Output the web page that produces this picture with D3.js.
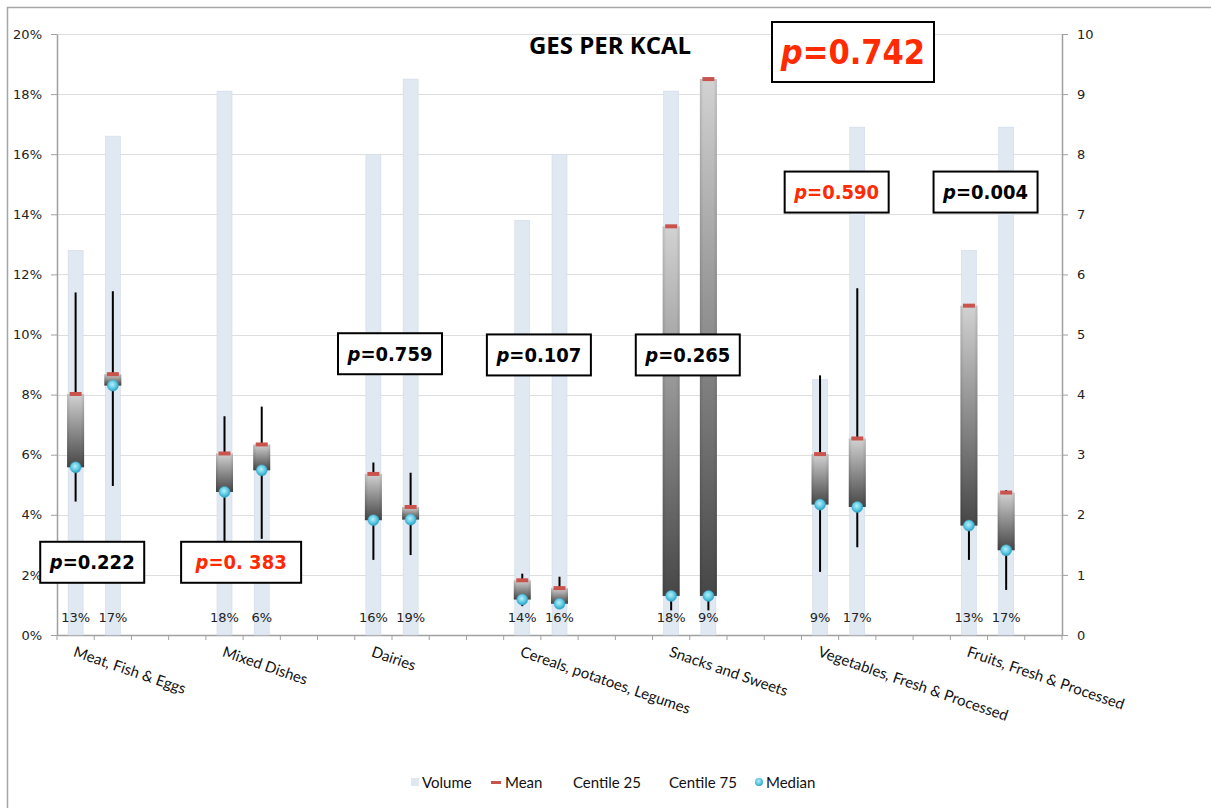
<!DOCTYPE html>
<html>
<head>
<meta charset="utf-8">
<script src="https://cdn.jsdelivr.net/npm/d3@7/dist/d3.min.js"></script>
<style>
  html, body { margin: 0; padding: 0; background: #fff; }
  svg { display: block; }
</style>
</head>
<body>
<svg id="chart" width="1211" height="808"></svg>
<script>
// ---------- DATA ----------
const title = "GES PER KCAL";
const categories = ["Meat, Fish & Eggs", "Mixed Dishes", "Dairies", "Cereals, potatoes, Legumes",
  "Snacks and Sweets", "Vegetables, Fresh & Processed", "Fruits, Fresh & Processed"];
// two bars per category (14 bars, in order)
const volume       = [12.8, 16.6, 18.1, 6.0, 16.0, 18.5, 13.8, 16.0, 18.1, 9.0, 8.5, 16.9, 12.8, 16.9]; // % (left axis)
const volumeLabels = ["13%","17%","18%","6%","16%","19%","14%","16%","18%","9%","9%","17%","13%","17%"];
const meanVals     = [4.01, 4.34, 3.02, 3.17, 2.68, 2.13, 0.91, 0.78, 6.80, 9.25, 3.01, 3.27, 5.48, 2.37]; // right axis
const medianVals   = [2.79, 4.15, 2.38, 2.74, 1.91, 1.92, 0.59, 0.52, 0.65, 0.65, 2.17, 2.13, 1.82, 1.41];
const centile25    = [2.22, 2.48, 1.45, 1.60, 1.25, 1.33, 0.48, 0.45, 0.41, 0.41, 1.05, 1.46, 1.25, 0.75];
const centile75    = [5.70, 5.72, 3.64, 3.80, 2.87, 2.70, 1.02, 0.97, 3.50, 4.00, 4.32, 5.77, 4.00, 2.41];
const pValues      = ["0.222", "0. 383", "0.759", "0.107", "0.265", "0.590", "0.004"];
const pSignificant = [false, true, false, false, false, true, false];
const pGlobal = "0.742";
const leftTicks  = [0, 2, 4, 6, 8, 10, 12, 14, 16, 18, 20];
const rightTicks = [0, 1, 2, 3, 4, 5, 6, 7, 8, 9, 10];
const legendItems = ["Volume", "Mean", "Centile 25", "Centile 75", "Median"];

// ---------- LAYOUT ----------
const svg = d3.select("#chart");
const W = 1211, H = 808;
const plot = { left: 57, right: 1062, top: 34, bottom: 635 };
const nSlots = 27;
const slotIndex = [0, 1, 4, 5, 8, 9, 12, 13, 16, 17, 20, 21, 24, 25];
const pBoxY = [1.21, 1.21, 4.68, 4.66, 4.66, 7.37, 7.37]; // annotation placement (right-axis units)

const x = d3.scaleBand().domain(d3.range(nSlots)).range([plot.left, plot.right]).padding(0);
const yL = d3.scaleLinear().domain([0, 20]).range([plot.bottom, plot.top]);
const yR = d3.scaleLinear().domain([0, 10]).range([plot.bottom, plot.top]);
const cx = i => x(slotIndex[i]) + x.bandwidth() / 2;
const groupCx = g => x(slotIndex[2 * g] + 1);

const defs = svg.append("defs");
const bg = defs.append("linearGradient").attr("id", "boxGrad").attr("x1", 0).attr("y1", 0).attr("x2", 0).attr("y2", 1);
bg.append("stop").attr("offset", "0%").attr("stop-color", "#d2d2d2");
bg.append("stop").attr("offset", "100%").attr("stop-color", "#464646");
const bgH = defs.append("linearGradient").attr("id", "boxSide").attr("x1", 0).attr("y1", 0).attr("x2", 1).attr("y2", 0);
bgH.append("stop").attr("offset", "0%").attr("stop-color", "#000").attr("stop-opacity", 0.12);
bgH.append("stop").attr("offset", "20%").attr("stop-color", "#000").attr("stop-opacity", 0);
bgH.append("stop").attr("offset", "80%").attr("stop-color", "#000").attr("stop-opacity", 0);
bgH.append("stop").attr("offset", "100%").attr("stop-color", "#000").attr("stop-opacity", 0.12);
const rg = defs.append("radialGradient").attr("id", "medGrad").attr("cx", "45%").attr("cy", "40%").attr("r", "60%");
rg.append("stop").attr("offset", "0%").attr("stop-color", "#b8f0fb");
rg.append("stop").attr("offset", "60%").attr("stop-color", "#5cc9e3");
rg.append("stop").attr("offset", "100%").attr("stop-color", "#2f9fc0");

// outer border
svg.append("path").attr("d", `M7.5,${H} V7.5 H${W}`).attr("fill", "none").attr("stroke", "#a6a6a6").attr("stroke-width", 1.5);

// gridlines
svg.append("g").selectAll("line").data(leftTicks.slice(1)).join("line")
  .attr("x1", plot.left).attr("x2", plot.right)
  .attr("y1", d => Math.round(yL(d)) + 0.5).attr("y2", d => Math.round(yL(d)) + 0.5)
  .attr("stroke", "#dedede").attr("stroke-width", 1);

// axes
const axisFont = "'DejaVu Sans', Verdana, sans-serif";
const gL = svg.append("g").attr("transform", `translate(${plot.left},0)`)
  .call(d3.axisLeft(yL).tickValues(leftTicks).tickFormat(d => d + "%").tickSize(6).tickSizeOuter(0));
const gR = svg.append("g").attr("transform", `translate(${plot.right},0)`)
  .call(d3.axisRight(yR).tickValues(rightTicks).tickFormat(d3.format("d")).tickSize(6).tickSizeOuter(0));
const gX = svg.append("g").attr("transform", `translate(0,${plot.bottom})`)
  .call(d3.axisBottom(x).tickValues([]).tickSizeOuter(0));
gX.selectAll(".sl").data(d3.range(nSlots + 1)).join("line")
  .attr("x1", d => plot.left + d * x.bandwidth()).attr("x2", d => plot.left + d * x.bandwidth())
  .attr("y1", 0).attr("y2", 5).attr("stroke", "#a0a0a0");
[gL, gR, gX].forEach(g => {
  g.select(".domain").attr("stroke", "#a0a0a0").attr("stroke-width", 1.5);
  g.selectAll(".tick line").attr("stroke", "#a0a0a0");
  g.selectAll(".tick text").attr("font-family", axisFont).attr("font-size", 13).attr("fill", "#222");
});
gL.selectAll(".tick text").attr("x", -15);
gR.selectAll(".tick text").attr("x", 15);

// volume columns
const colW = 15;
svg.append("g").selectAll("rect").data(volume).join("rect")
  .attr("x", (d, i) => cx(i) - colW / 2).attr("width", colW)
  .attr("y", d => yL(d)).attr("height", d => yL(0) - yL(d))
  .attr("fill", "#e0e8f2").attr("stroke", "#d2dbe6").attr("stroke-width", 0.6);

// whiskers (centile 25 - centile 75)
svg.append("g").selectAll("line").data(centile25).join("line")
  .attr("x1", (d, i) => cx(i)).attr("x2", (d, i) => cx(i))
  .attr("y1", d => yR(d)).attr("y2", (d, i) => yR(centile75[i]))
  .attr("stroke", "#000").attr("stroke-width", 2);

// boxes (median - mean)
const boxW = 17;
const boxes = svg.append("g").selectAll("g").data(meanVals).join("g");
boxes.append("rect")
  .attr("x", (d, i) => cx(i) - boxW / 2).attr("width", boxW)
  .attr("y", (d, i) => yR(Math.max(d, medianVals[i])))
  .attr("height", (d, i) => Math.abs(yR(medianVals[i]) - yR(d)))
  .attr("fill", "url(#boxGrad)");
boxes.append("rect")
  .attr("x", (d, i) => cx(i) - boxW / 2).attr("width", boxW)
  .attr("y", (d, i) => yR(Math.max(d, medianVals[i])))
  .attr("height", (d, i) => Math.abs(yR(medianVals[i]) - yR(d)))
  .attr("fill", "url(#boxSide)");

// mean markers
svg.append("g").selectAll("rect").data(meanVals).join("rect")
  .attr("x", (d, i) => cx(i) - 6).attr("width", 12)
  .attr("y", d => yR(d) - 2).attr("height", 4)
  .attr("fill", "#c9544d");

// median markers
svg.append("g").selectAll("circle").data(medianVals).join("circle")
  .attr("cx", (d, i) => cx(i)).attr("cy", d => yR(d)).attr("r", 5.5)
  .attr("fill", "url(#medGrad)").attr("stroke", "#3aaccc").attr("stroke-width", 0.5);

// volume labels
svg.append("g").selectAll("text").data(volumeLabels).join("text")
  .attr("x", (d, i) => cx(i)).attr("y", 622)
  .attr("text-anchor", "middle").attr("font-family", axisFont).attr("font-size", 13).attr("fill", "#222")
  .text(d => d);

// category labels
const catFont = "Lato, 'Open Sans', sans-serif";
svg.append("g").selectAll("text").data(categories).join("text")
  .attr("transform", (d, g) => `translate(${cx(2 * g) - 3},${plot.bottom + 21}) rotate(19)`)
  .attr("font-family", catFont).attr("font-size", 15).attr("fill", "#111")
  .text(d => d);

// title
svg.append("text").attr("x", 610).attr("y", 54).attr("text-anchor", "middle")
  .attr("font-family", "'Open Sans', Lato, sans-serif").attr("font-weight", "bold").attr("font-size", 24)
  .attr("fill", "#000").text(title);

// p-value boxes
const pFont = "'DejaVu Sans Condensed', 'DejaVu Sans', Verdana, sans-serif";
function pBox(cxp, cyp, label, red, fs, w, h) {
  const g = svg.append("g");
  g.append("rect").attr("fill", "#fff").attr("stroke", "#000").attr("stroke-width", 2)
    .attr("x", cxp - w / 2).attr("y", cyp - h / 2).attr("width", w).attr("height", h);
  const t = g.append("text").attr("font-family", pFont).attr("font-weight", "bold")
    .attr("font-stretch", "condensed")
    .attr("font-size", fs).attr("fill", red ? "#ff2a00" : "#000").attr("text-anchor", "middle")
    .attr("x", cxp).attr("y", cyp + fs * 0.36);
  t.append("tspan").attr("font-style", "italic").text("p");
  t.append("tspan").text("=" + label);
}
pValues.forEach((p, g) => pBox(groupCx(g) - 2, yR(pBoxY[g]), p, pSignificant[g], 20, p.length > 5 ? 120 : 104, 41));
pBox(853, 52, pGlobal, true, 34, 162, 60);

// legend
const legFont = "Lato, 'Open Sans', sans-serif";
const leg = svg.append("g").attr("font-family", legFont).attr("font-size", 15).attr("fill", "#111");
const legX = [422, 505, 573, 669, 766];
leg.append("rect").attr("x", 411).attr("y", 778).attr("width", 8).attr("height", 8).attr("fill", "#dfe7f1");
leg.append("rect").attr("x", 491).attr("y", 781).attr("width", 10).attr("height", 3).attr("fill", "#c9544d");
leg.append("circle").attr("cx", 759).attr("cy", 782).attr("r", 4).attr("fill", "url(#medGrad)");
leg.selectAll("text").data(legendItems).join("text")
  .attr("x", (d, i) => legX[i]).attr("y", 788).text(d => d);
</script>
</body>
</html>
